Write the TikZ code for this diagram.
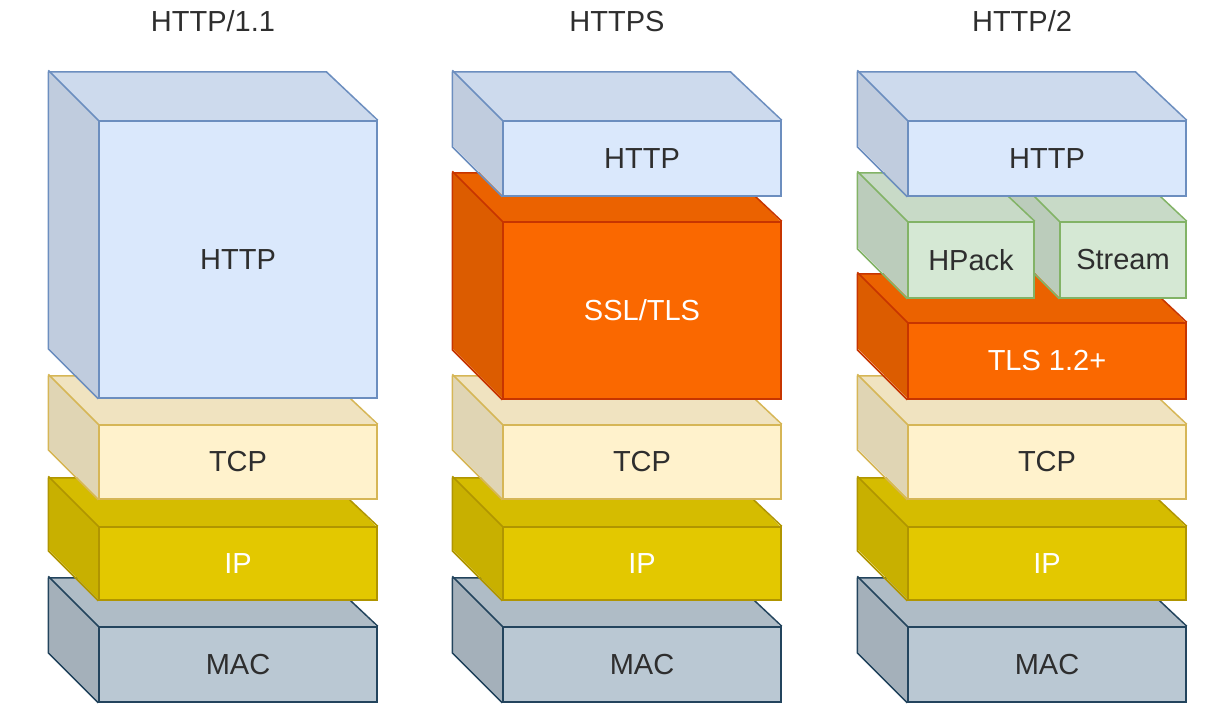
\documentclass[tikz,border=0pt]{standalone}
\usepackage{fontspec}
\setmainfont{Liberation Sans}
\definecolor{txtCol}{HTML}{2E2E2E}
\definecolor{httpF}{HTML}{DAE8FC}
\definecolor{httpE}{HTML}{6C8EBF}
\definecolor{httpX}{HTML}{2E2E2E}
\definecolor{tcpF}{HTML}{FFF2CC}
\definecolor{tcpE}{HTML}{D6B656}
\definecolor{tcpX}{HTML}{2E2E2E}
\definecolor{ipF}{HTML}{E3C800}
\definecolor{ipE}{HTML}{B09500}
\definecolor{ipX}{HTML}{FFFFFF}
\definecolor{macF}{HTML}{BAC8D3}
\definecolor{macE}{HTML}{23445D}
\definecolor{macX}{HTML}{2E2E2E}
\definecolor{tlsF}{HTML}{FA6800}
\definecolor{tlsE}{HTML}{C73500}
\definecolor{tlsX}{HTML}{FFFFFF}
\definecolor{h2F}{HTML}{D5E8D4}
\definecolor{h2E}{HTML}{82B366}
\definecolor{h2X}{HTML}{2E2E2E}

\tikzset{
  layer/.style={rectangle, inner sep=0pt, line width=1.5pt,
    font=\fontsize{29}{34}\selectfont},
  cubeline/.style={line width=1.5pt, line join=round},
  title/.style={anchor=base, font=\fontsize{29}{34}\selectfont, text=txtCol}
}

% #1 name, #2 colour set, #3/#4 front top left, #5/#6 front bottom right, #7 label
\newcommand{\layerbox}[7]{
  \pgfmathsetmacro{\lw}{#5-#3}
  \pgfmathsetmacro{\lh}{#6-#4}
  \fill[#2F!94!black] (#3-50,#4-50) -- (#5-50,#4-50) -- (#5,#4) -- (#3,#4) -- cycle;
  \fill[#2F!88!black] (#3-50,#4-50) -- (#3,#4) -- (#3,#6) -- (#3-50,#6-50) -- cycle;
  \node[layer, fill=#2F, draw=#2E, text=#2X, minimum width=\lw pt, minimum height=\lh pt]
    (#1) at ({(#3+#5)/2},{(#4+#6)/2}) {#7};
  \draw[cubeline, #2E] (#1.south west) -- ++(-50,-50) -- ++(0,-\lh) -- ++(\lw,0) -- (#1.north east);
  \draw[cubeline, #2E] (#1.north west) -- ++(-50,-50);
}

\begin{document}
\begin{tikzpicture}[x=1pt, y=-1pt]
  \useasboundingbox (0,0) rectangle (1207,721);
%  \draw [help lines] (0,0) grid (1207,721);

  %% HTTP/1.1
  \node[title] (t1) at (213,31) {HTTP/1.1};
  \layerbox{macA}{mac}{99}{627}{377}{702}{MAC}
  \layerbox{ipA}{ip}{99}{527}{377}{600}{IP}
  \layerbox{tcpA}{tcp}{99}{425}{377}{499}{TCP}
  \layerbox{httpA}{http}{99}{121}{377}{398}{HTTP}

  %% HTTPS
  \node[title] (t2) at (617,31) {HTTPS};
  \layerbox{macB}{mac}{503}{627}{781}{702}{MAC}
  \layerbox{ipB}{ip}{503}{527}{781}{600}{IP}
  \layerbox{tcpB}{tcp}{503}{425}{781}{499}{TCP}
  \layerbox{sslB}{tls}{503}{222}{781}{399}{SSL/TLS}
  \layerbox{httpB}{http}{503}{121}{781}{196}{HTTP}

  %% HTTP/2
  \node[title] (t3) at (1022,31) {HTTP/2};
  \layerbox{macC}{mac}{908}{627}{1186}{702}{MAC}
  \layerbox{ipC}{ip}{908}{527}{1186}{600}{IP}
  \layerbox{tcpC}{tcp}{908}{425}{1186}{499}{TCP}
  \layerbox{tlsC}{tls}{908}{323}{1186}{399}{TLS 1.2+}
  \layerbox{streamC}{h2}{1060}{222}{1186}{298}{Stream}
  \layerbox{hpackC}{h2}{908}{222}{1034}{298}{HPack}
  \layerbox{httpC}{http}{908}{121}{1186}{196}{HTTP}
\end{tikzpicture}
\end{document}
